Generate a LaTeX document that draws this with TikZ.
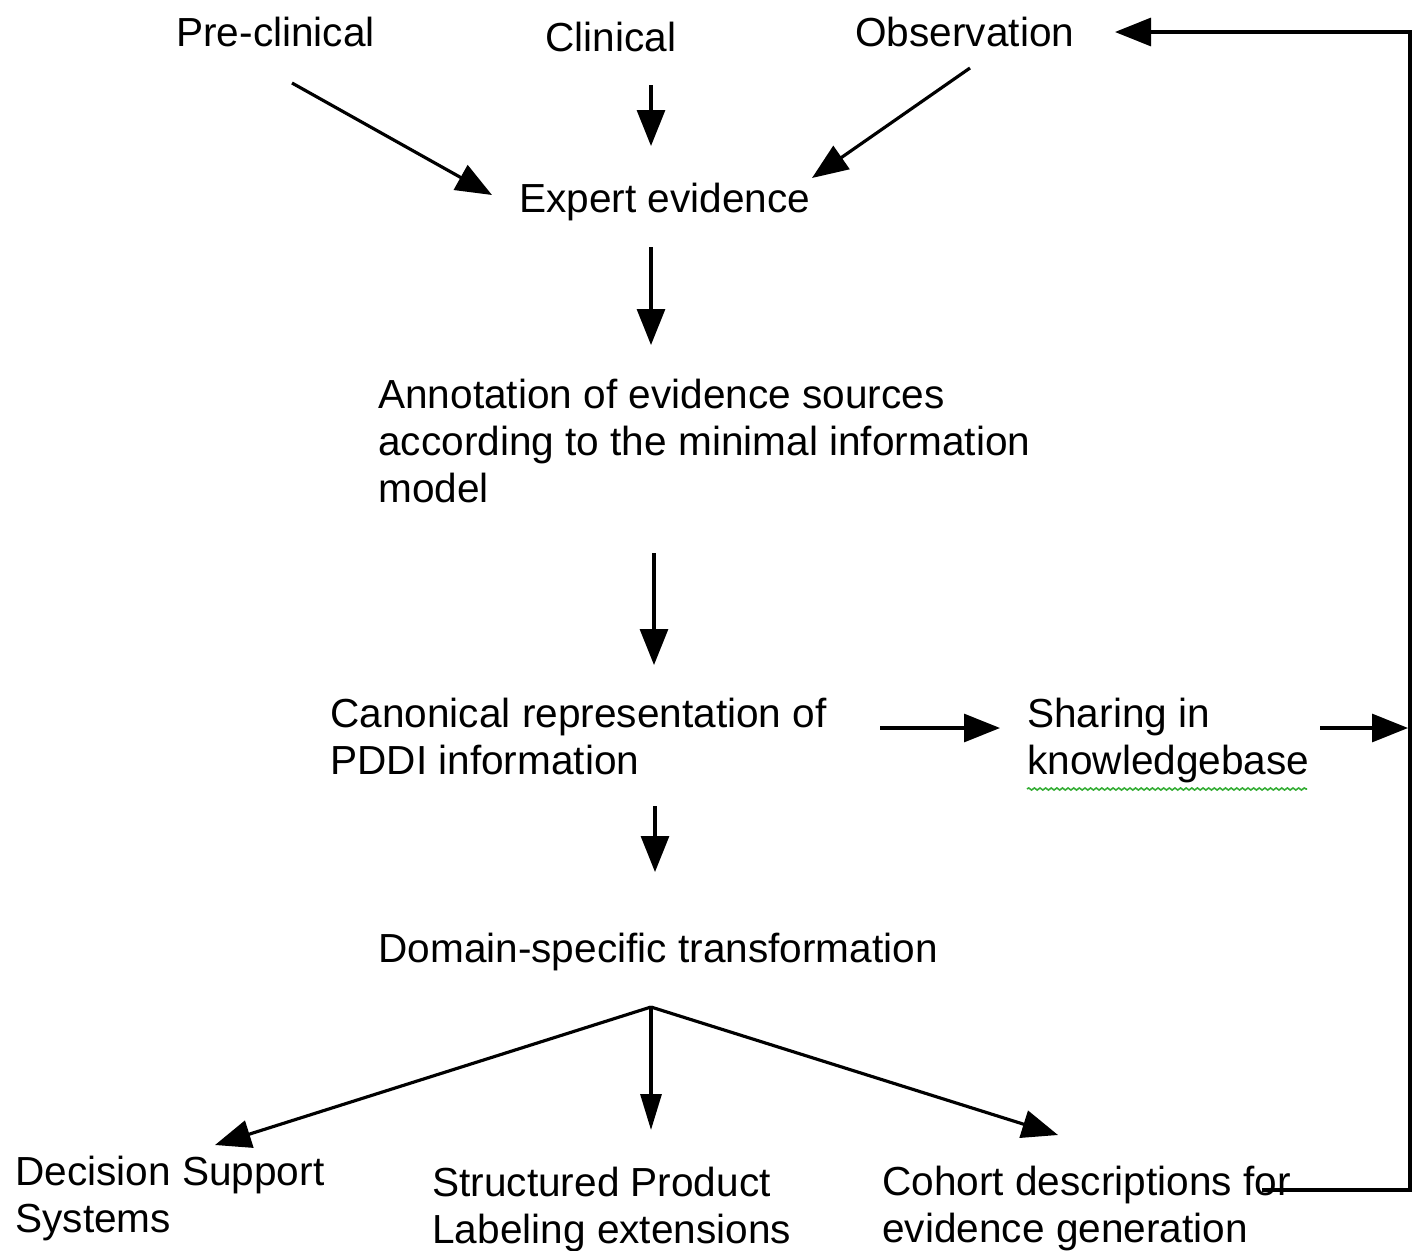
\documentclass[tikz,border=0pt]{standalone}
\usepackage{fontspec}
\setmainfont{Liberation Sans}
\usetikzlibrary{arrows.meta,decorations.pathmorphing}
\begin{document}
\begin{tikzpicture}[x=0.02cm,y=-0.02cm,
  lbl/.style={anchor=base west,inner sep=0pt,align=left,font=\fontsize{23.1}{26.6}\selectfont},
  arr/.style={line width=1.8pt,-{Triangle[length=0.72cm,width=0.56cm]}},
  narr/.style={line width=1.8pt,-{Triangle[length=0.72cm,width=0.42cm]}}]
\useasboundingbox (0,0) rectangle (1421,1251);
% nodes (anchor = baseline of last line)
\node[lbl] (pre) at (176,46) {Pre-clinical};
\node[lbl] (cli) at (545,51) {Clinical};
\node[lbl] (obs) at (855,46) {Observation};
\node[lbl] (exp) at (519,212) {Expert evidence};
\node[lbl] (ann) at (378,502) {Annotation of evidence sources\\according to the minimal information\\model};
\node[lbl] (can) at (330,774) {Canonical representation of\\PDDI information};
\node[lbl] (sha) at (1027,774) {Sharing in\\knowledgebase};
\node[lbl] (dom) at (378,962) {Domain-specific transformation};
\node[lbl] (dss) at (15,1232) {Decision Support\\Systems};
\node[lbl] (spl) at (432,1243) {Structured Product\\Labeling extensions};
\node[lbl] (coh) at (882,1242) {Cohort descriptions for\\evidence generation};
% connector endpoints
\coordinate (preS) at (292,83);   \coordinate (preT) at (492,195);
\coordinate (cliS) at (651,85);   \coordinate (cliT) at (651,146);
\coordinate (obsS) at (970,68);   \coordinate (obsT) at (812,178);
\coordinate (expS) at (651,247);  \coordinate (expT) at (651,345);
\coordinate (annS) at (654,553);  \coordinate (annT) at (654,665);
\coordinate (canS) at (880,728);  \coordinate (canT) at (1000,728);
\coordinate (shaS) at (1320,728); \coordinate (shaT) at (1408,728);
\coordinate (canD) at (655,806);  \coordinate (canDT) at (655,872);
\coordinate (split) at (651,1007);
\coordinate (dssT) at (215,1145);
\coordinate (splT) at (651,1130);
\coordinate (cohT) at (1058,1135);
\coordinate (fbS) at (1262,1190);
\coordinate (fbC1) at (1410,1190);
\coordinate (fbC2) at (1410,32);
\coordinate (obsT2) at (1115,32);
% connectors
\draw[arr] (preS) -- (preT);
\draw[arr] (cliS) -- (cliT);
\draw[arr] (obsS) -- (obsT);
\draw[arr] (expS) -- (expT);
\draw[arr] (annS) -- (annT);
\draw[arr] (canS) -- (canT);
\draw[arr] (shaS) -- (shaT);
\draw[arr] (canD) -- (canDT);
\draw[arr] (split) -- (dssT);
\draw[narr] (split) -- (splT);
\draw[arr] (split) -- (cohT);
\draw[arr] (fbS) -- (fbC1) -- (fbC2) -- (obsT2);
% wavy underline
\draw[green!60!black!80,line width=0.9pt,decorate,decoration={snake,amplitude=0.6pt,segment length=3.2pt}] (1027,789) -- (1307,789);
\end{tikzpicture}
\end{document}
